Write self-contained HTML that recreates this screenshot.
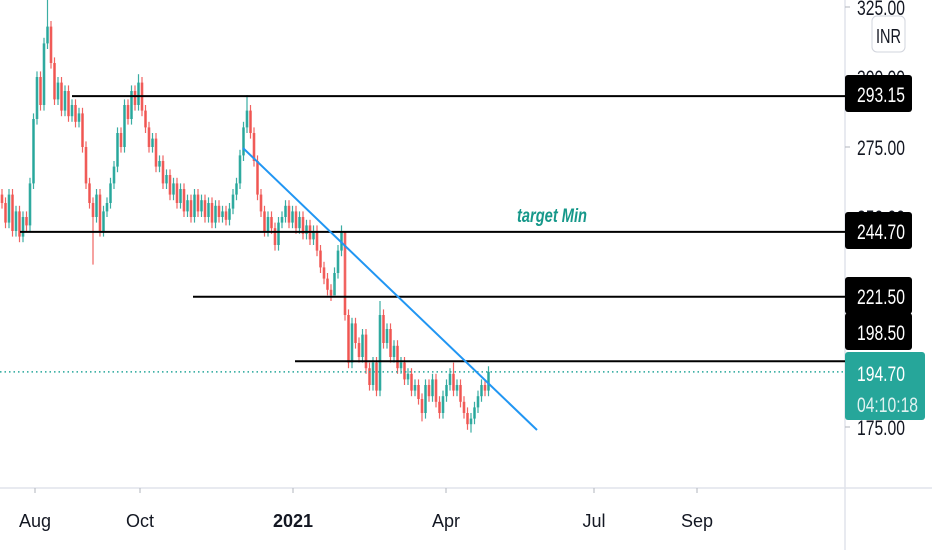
<!DOCTYPE html>
<html><head><meta charset="utf-8"><style>
body{margin:0;background:#fff;width:932px;height:550px;overflow:hidden;font-family:"Liberation Sans",sans-serif}
svg{display:block}
</style></head><body>
<svg id="chart" width="932" height="550" xmlns="http://www.w3.org/2000/svg">
<g id="candles"></g>
<g id="overlay"></g>
</svg>
<script>
const closes=[255,248,258,245,252,243,250,247,
262,285,300,290,312,318,
305,292,298,288,295,286,290,284,287,
275,262,255,250,258,245,252,
255,262,268,280,275,290,285,295,290,298,
288,282,275,278,268,270,262,265,258,262,255,260,252,256,250,258,
252,256,250,255,248,254,250,252,249,253,258,262,
272,282,288,280,270,
258,252,245,250,246,240,248,
250,254,248,252,246,250,244,247,242,245,238,232,228,224,222,
230,238,245,
215,198,212,
205,200,208,196,190,198,188,215,
205,210,200,204,196,198,192,194,188,190,
185,180,190,186,192,184,180,186,190,194,
188,190,184,180,176,178,182,186,190,188,194.7];
const spikeIdx=[13,26,39,70,95,98,108,120,129,134];
const spikeHigh=[328,null,301,293.5,null,222,220,null,198,null];
const spikeLow=[null,233,null,null,227,null,null,177,null,173];
const levels=[293.15,244.7,221.5,198.5];
const levelStartX=[72,20,193,295];
const priceTicks=[325,300,275,250,175];
const timeLabels=["Aug","Oct","2021","Apr","Jul","Sep"];
const timePos=[35,140,293,446,594,697];
const lastPrice=194.7;

const NS="http://www.w3.org/2000/svg";
const cg=document.getElementById('candles');
const ov=document.getElementById('overlay');
const yOf=v=>147+(275-v)*2.8;
const xOf=i=>2+i*3.5;
function mk(tag,attrs,parent){const e=document.createElementNS(NS,tag);for(const k in attrs)e.setAttribute(k,attrs[k]);(parent||ov).appendChild(e);return e;}

let a=mk('line',{x1:0,y1:488,x2:932,y2:488,stroke:'#e0e3eb','stroke-width':1.5});


a=mk('line',{x1:845,y1:0,x2:845,y2:550,stroke:'#e0e3eb','stroke-width':1.5});



for(let i=0;i<closes.length;i++){
  const o=i?closes[i-1]:closes[0]+3, c=closes[i];
  let hi=Math.max(o,c)+2, lo=Math.min(o,c)-2;
  const s=spikeIdx.indexOf(i);
  if(s>=0){if(spikeHigh[s]!=null)hi=spikeHigh[s];if(spikeLow[s]!=null)lo=spikeLow[s];}
  const col=c>=o?'#26a69a':'#ef5350';
  const g=mk('g',{},cg);
  
  
  mk('line',{x1:xOf(i),x2:xOf(i),y1:yOf(hi),y2:yOf(lo),stroke:col,'stroke-width':1.2,opacity:0.9},g);
  const y1=yOf(Math.max(o,c)),y2=yOf(Math.min(o,c));
  mk('rect',{x:xOf(i)-1.3,y:y1,width:2.6,height:Math.max(1,y2-y1),fill:col,opacity:0.9},g);
}

a=mk('line',{x1:0,x2:845,y1:yOf(lastPrice),y2:yOf(lastPrice),stroke:'#26a69a','stroke-width':1.5,'stroke-dasharray':'1.5 3'});



levels.forEach((v,k)=>{
  const l=mk('line',{x1:levelStartX[k],x2:845,y1:yOf(v),y2:yOf(v),stroke:'#000','stroke-width':2});
  
  
});

a=mk('line',{x1:243,y1:148,x2:537,y2:430,stroke:'#2196f3','stroke-width':2});



a=mk('text',{x:517,y:222,fill:'#16988a','font-size':19,'font-style':'italic','font-weight':'bold',textLength:70,lengthAdjust:'spacingAndGlyphs'});
a.textContent='target Min';



priceTicks.forEach(v=>{
  mk('line',{x1:845,x2:850,y1:yOf(v),y2:yOf(v),stroke:'#b2b5be'});
  const t=mk('text',{x:857,y:yOf(v)+8,fill:'#131722','font-size':21,textLength:48,lengthAdjust:'spacingAndGlyphs'});
  t.textContent=v.toFixed(2);
  
  
});

const badgeTop=[75,212,277,313];
levels.forEach((v,k)=>{
  const y=badgeTop[k];
  const r=mk('rect',{x:845,y:y,width:67,height:37,rx:3,fill:'#000'});
  
  
  const t=mk('text',{x:857,y:y+27,fill:'#fff','font-size':21,textLength:48,lengthAdjust:'spacingAndGlyphs'});
  t.textContent=v.toFixed(2);
  
  
});

a=mk('rect',{x:845,y:352,width:80,height:68,rx:3,fill:'#26a69a'});


a=mk('text',{x:857,y:381,fill:'#fff','font-size':21,textLength:48,lengthAdjust:'spacingAndGlyphs'});
a.textContent=lastPrice.toFixed(2);


a=mk('text',{x:857,y:412,fill:'#e0f2f1','font-size':21,textLength:61,lengthAdjust:'spacingAndGlyphs'});
a.textContent='04:10:18';



a=mk('rect',{x:872,y:16,width:33,height:36,rx:5,fill:'#fff',stroke:'#d1d4dc'});


a=mk('text',{x:876,y:43,fill:'#131722','font-size':20,textLength:25,lengthAdjust:'spacingAndGlyphs'});
a.textContent='INR';



timeLabels.forEach((s,k)=>{
  mk('line',{x1:timePos[k],x2:timePos[k],y1:488,y2:493,stroke:'#b2b5be'});
  const t=mk('text',{x:timePos[k],y:527,fill:'#131722','font-size':18,'text-anchor':'middle','font-weight':s==='2021'?'bold':'normal'});
  t.textContent=s;
  
  
});
</script>
</body></html>
